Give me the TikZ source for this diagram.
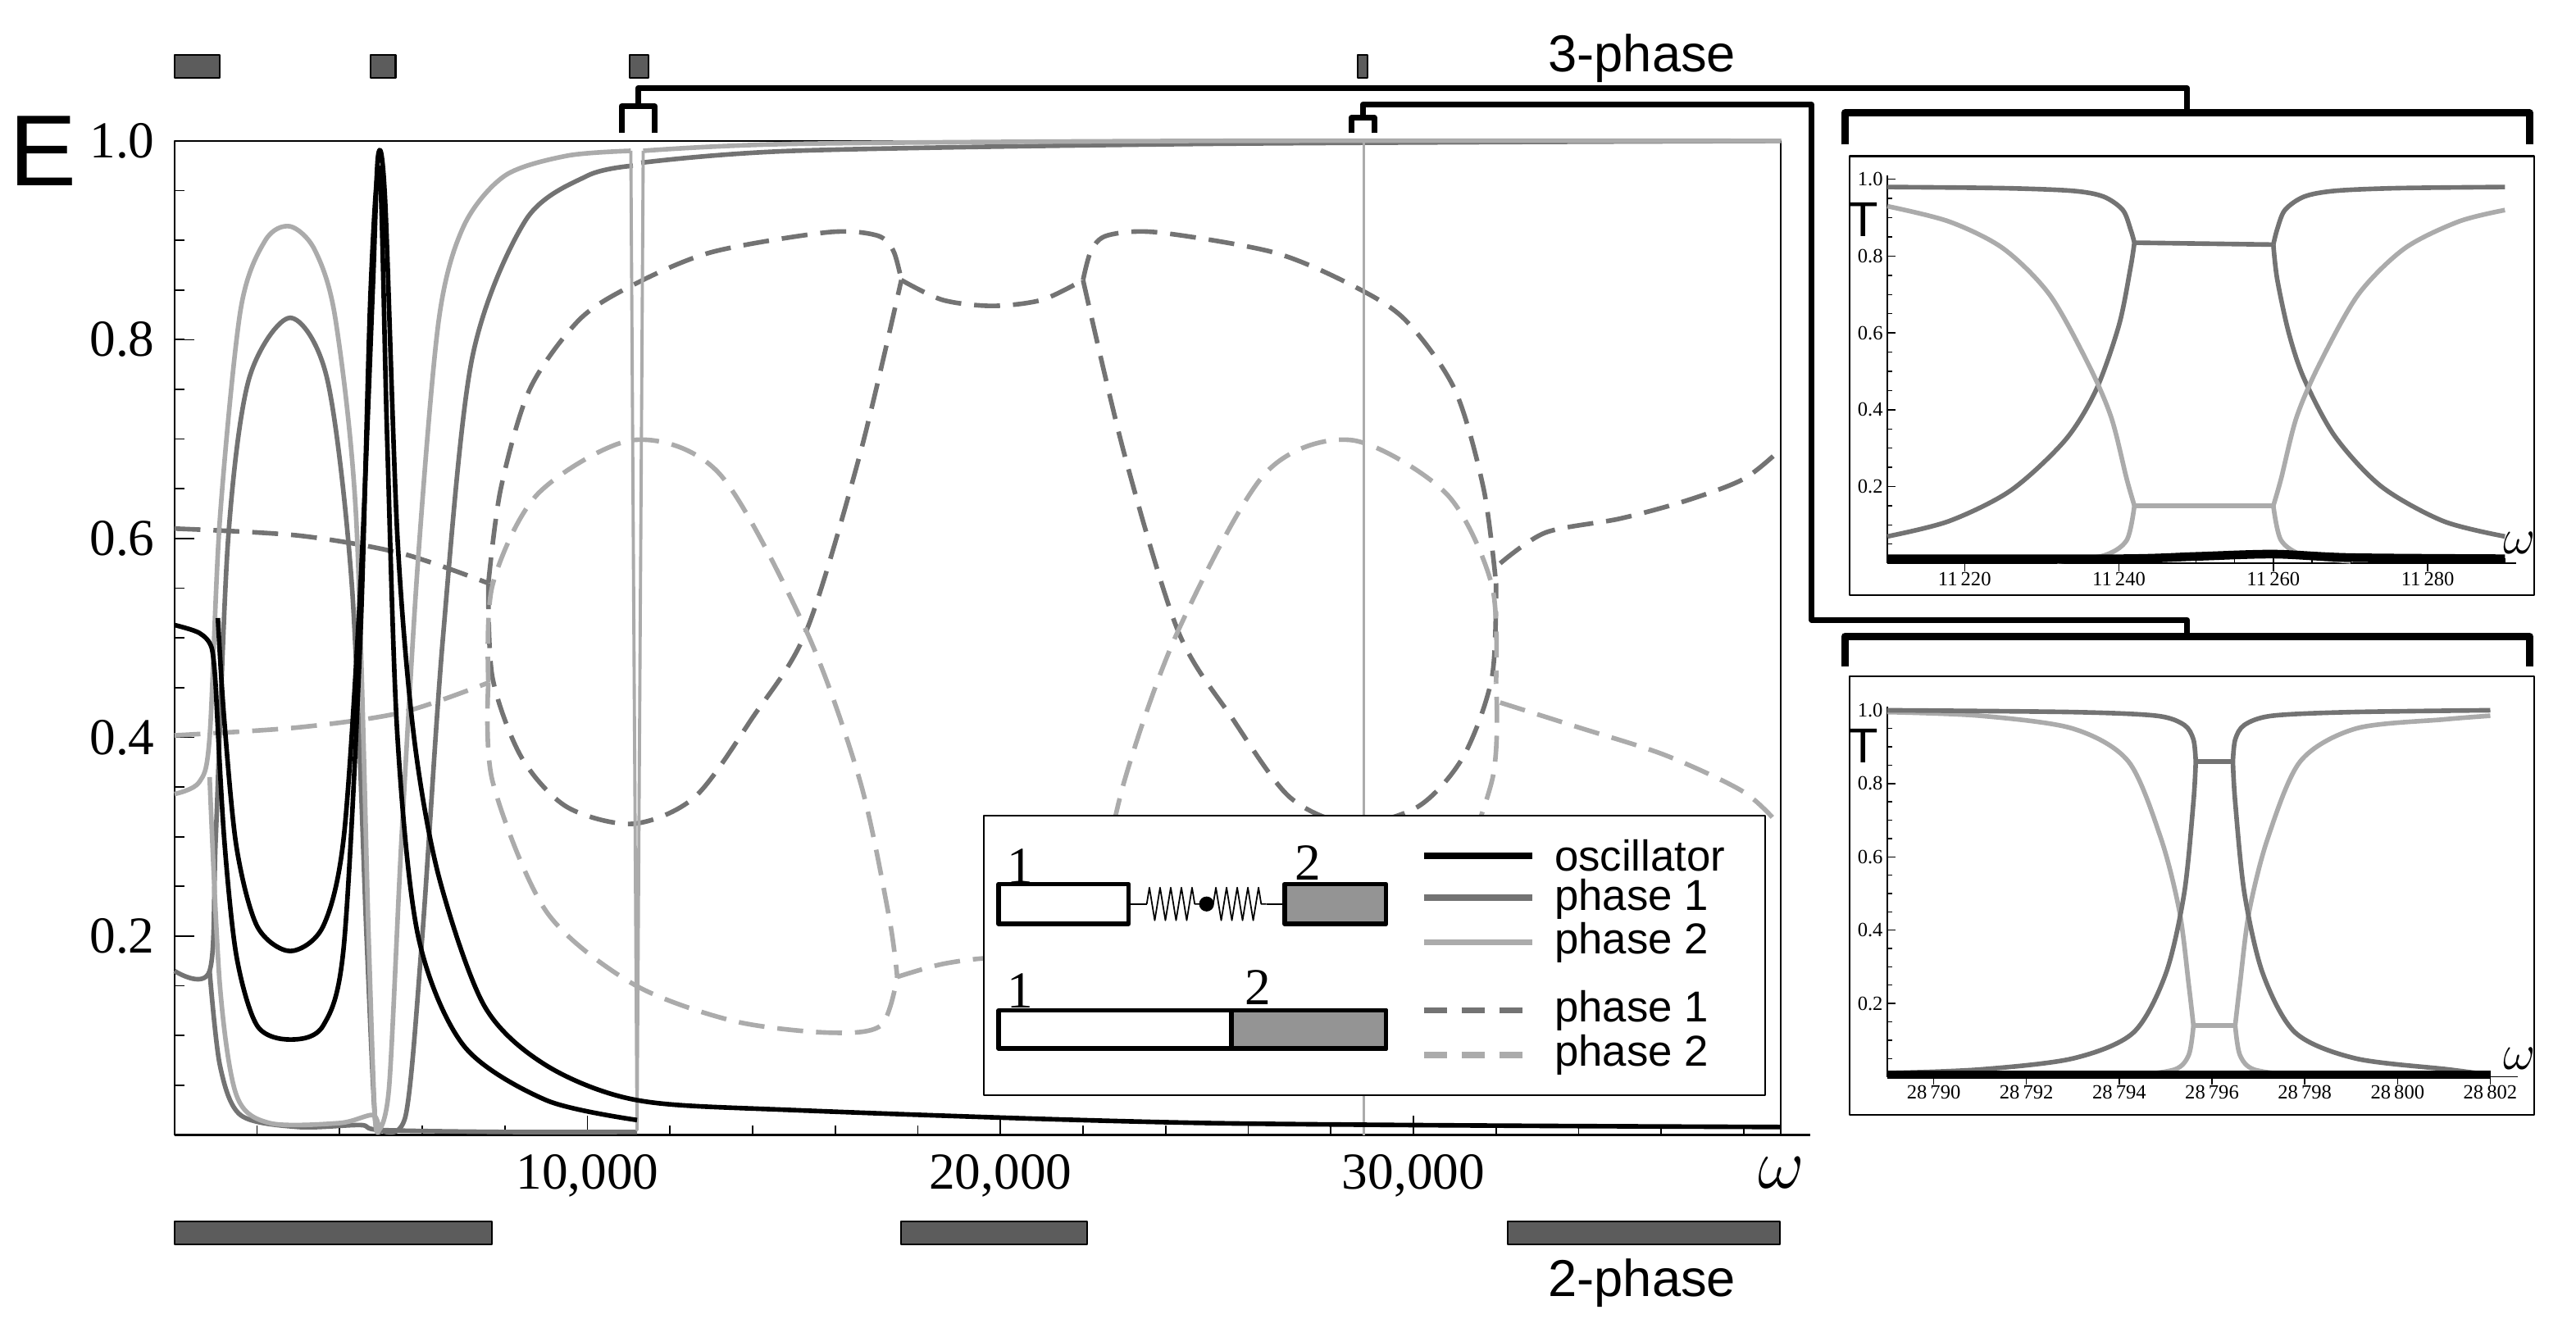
\documentclass[tikz,border=0pt]{standalone}
\usepackage{fontspec}
\setmainfont{Liberation Serif}
\newfontfamily\sansf{Liberation Sans}
\usetikzlibrary{decorations.pathmorphing}
\definecolor{phone}{gray}{0.45}
\definecolor{phtwo}{gray}{0.67}
\definecolor{regfill}{gray}{0.36}
\definecolor{boxfill}{gray}{0.58}
\tikzstyle{osc} = [line width=1.6pt, black]
\tikzstyle{phaseone} = [line width=1.6pt, phone]
\tikzstyle{phasetwo} = [line width=1.6pt, phtwo]
\tikzstyle{phaseonedash} = [phaseone, dash pattern=on 9pt off 4.5pt]
\tikzstyle{phasetwodash} = [phasetwo, dash pattern=on 9pt off 4.5pt]
\tikzstyle{region} = [draw=black, line width=0.6pt, fill=regfill]
\tikzstyle{bracket} = [line width=2pt, black]
\tikzstyle{ticklab} = [font=\fontsize{18}{18}\selectfont, inner sep=1pt]
\tikzstyle{insetlab} = [font=\fontsize{7}{7}\selectfont, inner sep=0.5pt]
\tikzstyle{legtext} = [font=\sansf\fontsize{15}{15}\selectfont, anchor=west, inner sep=0pt]
\tikzstyle{bigsans} = [font=\sansf\fontsize{18}{18}\selectfont, inner sep=0pt]
\begin{document}
\begin{tikzpicture}[x=0.020271cm, y=-0.020271cm, line join=round]
    \useasboundingbox (0,0) rectangle (1550,798.8);

    % region markers
    \draw[region] (105,33) rectangle (132,47);
    \draw[region] (223,33) rectangle (238,47);
    \draw[region] (379,33) rectangle (390,47);
    \draw[region] (817,33) rectangle (823,47);
    \draw[region] (105,735) rectangle (296,749);
    \draw[region] (542,735) rectangle (654,749);
    \draw[region] (907,735) rectangle (1071,749);
    \node (three) [bigsans] at (988,35) {3-phase};
    \node (two) [bigsans] at (988,772) {2-phase};

    % brackets
    \draw[bracket] (374,80) -- (374,64) -- (394,64) -- (394,80);
    \draw[bracket] (384,64) -- (384,53) -- (1316,53) -- (1316,68);
    \draw[bracket] (813,80) -- (813,71) -- (827,71) -- (827,80);
    \draw[bracket] (820,71) -- (820,63) -- (1090,63) -- (1090,373) -- (1316,373) -- (1316,383);
    \draw[bracket, line width=2.6pt] (1110,87) -- (1110,68) -- (1522,68) -- (1522,87);
    \draw[bracket, line width=2.6pt] (1110,401) -- (1110,383) -- (1522,383) -- (1522,401);

    % main plot
    \begin{scope}[shift={(105,683)}, x=0.50353cm, y=12.122cm]
        \draw[line width=0.6pt] (0,0) -- (39.6,0);
        \draw[line width=0.6pt] (0,0) -- (0,1) -- (38.9,1) -- (38.9,0);
        \foreach \t in {0.05,0.1,...,0.99} \draw[line width=0.5pt] (0,\t) -- ++(0.12cm,0);
        \foreach \t in {0.2,0.4,0.6,0.8} \draw[line width=0.5pt] (0,\t) -- ++(0.24cm,0);
        \foreach \w in {2,4,...,38} \draw[line width=0.5pt] (\w,0) -- ++(0,0.12cm);
        \foreach \w in {10,20,30} \draw[line width=0.5pt] (\w,0) -- ++(0,0.24cm);
        \foreach \t/\l in {0.2/0.2,0.4/0.4,0.6/0.6,0.8/0.8,1/1.0}
            \node (ylab\l) [ticklab, anchor=east] at ([xshift=-0.2cm]0,\t) {\l};
        \foreach \w/\l in {10/{10,000},20/{20,000},30/{30,000}}
            \node (xlab\w) [ticklab, anchor=north] at ([yshift=-0.2cm]\w,0) {\l};

        % dashed: two-phase bar
        \draw[phaseonedash] plot[smooth] coordinates {(0,0.61) (3,0.603) (5.5,0.585) (7.6,0.555)};
        \draw[phaseonedash] plot[smooth] coordinates {(7.6,0.555) (7.9,0.65) (8.6,0.75) (9.8,0.82) (11.1,0.855) (13,0.888) (15.8,0.908) (17,0.905) (17.4,0.89) (17.6,0.86)};
        \draw[phaseonedash] plot[smooth] coordinates {(17.6,0.86) (18.6,0.84) (19.8,0.834) (21,0.84) (22,0.86)};
        \draw[phaseonedash] plot[smooth] coordinates {(22,0.86) (22.2,0.89) (22.6,0.905) (23.8,0.908) (26.6,0.888) (28.5,0.855) (29.8,0.82) (31,0.75) (31.7,0.65) (32,0.555)};
        \draw[phaseonedash] plot[smooth] coordinates {(7.6,0.555) (7.7,0.46) (8.4,0.38) (9.5,0.33) (11.1,0.313) (12.6,0.34) (14,0.42) (15.3,0.507) (16.6,0.685) (17.6,0.86)};
        \draw[phaseonedash] plot[smooth] coordinates {(22,0.86) (23,0.685) (24.3,0.507) (25.6,0.42) (27,0.34) (28.5,0.313) (30.1,0.33) (31.2,0.38) (31.9,0.46) (32,0.555)};
        \draw[phaseonedash] plot[smooth] coordinates {(32.1,0.575) (33.2,0.606) (35,0.62) (36.6,0.638) (38,0.66) (38.9,0.69)};
        \draw[phasetwodash] plot[smooth] coordinates {(0,0.402) (3,0.41) (5.5,0.425) (7.6,0.455)};
        \draw[phasetwodash] plot[smooth] coordinates {(7.6,0.455) (7.7,0.553) (8.8,0.645) (11.1,0.699) (13.2,0.665) (15.3,0.507) (16.6,0.356) (17.3,0.22) (17.5,0.159)};
        \draw[phasetwodash] plot[smooth] coordinates {(7.6,0.455) (7.7,0.356) (9,0.225) (11.1,0.152) (13.5,0.115) (15.8,0.103) (17.1,0.11) (17.5,0.159)};
        \draw[phasetwodash] plot[smooth] coordinates {(17.5,0.159) (18.6,0.172) (19.8,0.178) (21,0.172) (22.1,0.159)};
        \draw[phasetwodash] plot[smooth] coordinates {(22.1,0.159) (22.5,0.11) (23.8,0.103) (26.1,0.115) (28.5,0.152) (30.6,0.225) (31.9,0.356) (32,0.455)};
        \draw[phasetwodash] plot[smooth] coordinates {(22.1,0.159) (22.3,0.22) (23,0.356) (24.3,0.507) (26.4,0.665) (28.5,0.699) (30.8,0.645) (31.9,0.553) (32,0.455)};
        \draw[phasetwodash] plot[smooth] coordinates {(32.1,0.435) (34,0.41) (36.1,0.382) (38,0.345) (38.9,0.31)};

        % solid: three-phase bar
        \draw[phaseone] plot[smooth] coordinates {(0,0.165) (0.85,0.165) (1.0,0.3) (1.3,0.6) (1.8,0.76) (2.8,0.822) (3.7,0.76) (4.3,0.55) (4.65,0.2) (4.85,0.02) (5.0,0.005)};
        \draw[phaseone] plot[smooth] coordinates {(0.85,0.165) (1.1,0.07) (1.6,0.02) (3,0.008) (4.5,0.01) (5,0.005) (8,0.003) (11.2,0.003)};
        \draw[phaseone] plot[smooth] coordinates {(5.0,0.005) (5.6,0.02) (6.0,0.2) (6.5,0.5) (7.2,0.78) (8.5,0.92) (10,0.965) (11.1,0.975)};
        \draw[phaseone] plot[smooth] coordinates {(11.3,0.978) (15,0.99) (25,0.997) (38.9,1.0)};
        \draw[phasetwo] plot[smooth] coordinates {(0,0.343) (0.6,0.355) (0.85,0.40) (1.1,0.62) (1.6,0.83) (2.2,0.9) (2.8,0.914) (3.4,0.89) (3.9,0.82) (4.4,0.62) (4.7,0.2) (4.85,0.02) (4.95,0.005)};
        \draw[phasetwo] plot[smooth] coordinates {(0.85,0.36) (1.1,0.15) (1.5,0.04) (2.3,0.012) (4,0.012) (4.8,0.02) (4.95,0.005)};
        \draw[phasetwo] plot[smooth] coordinates {(4.95,0.005) (5.2,0.05) (5.5,0.3) (5.9,0.58) (6.4,0.82) (7,0.914) (8,0.965) (9.5,0.985) (11.05,0.99)};
        \draw[phasetwo] plot[smooth] coordinates {(11.35,0.99) (15,0.997) (25,1.0) (38.9,1.0)};
        \draw[phasetwo, line width=1.1pt] (11.05,0.99) -- (11.2,0.005) -- (11.35,0.99);
        \draw[phasetwo, line width=1.1pt] (28.8,1) -- (28.8,0);

        % oscillator
        \draw[osc] plot[smooth] coordinates {(0,0.513) (0.6,0.505) (0.9,0.49) (1.0,0.45)};
        \draw[osc] plot[smooth] coordinates {(1.05,0.52) (1.2,0.42) (1.5,0.29) (2.0,0.21) (2.8,0.185) (3.6,0.21) (4.1,0.3) (4.5,0.55) (4.8,0.85) (4.93,0.985) (5.1,0.94) (5.4,0.6) (5.8,0.4) (6.4,0.26) (7.5,0.13) (9,0.07) (11.2,0.035) (15,0.025) (25,0.012) (38.9,0.008)};
        \draw[osc] plot[smooth] coordinates {(1.0,0.45) (1.2,0.3) (1.5,0.18) (2.0,0.11) (2.8,0.096) (3.6,0.11) (4.1,0.19) (4.5,0.5) (4.75,0.85) (4.97,0.97) (5.15,0.7) (5.4,0.4) (5.9,0.2) (7,0.09) (9,0.035) (11.2,0.015)};
    \end{scope}
    \node (E) [font=\sansf\fontsize{35}{35}\selectfont, inner sep=0pt] at (26,91) {E};
    \node (omega) [font=\fontsize{46}{46}\selectfont, inner sep=0pt] at (1072,706) {$\omega$};

    % legend
    \draw[line width=0.6pt, fill=white] (592,491) rectangle (1062,659);
    \draw[line width=1.6pt] (601,532) rectangle (679,556);
    \draw[line width=1.6pt, fill=boxfill] (773,532) rectangle (834,556);
    \draw[line width=0.6pt] (679,544) -- (690,544);
    \draw[line width=0.5pt, decorate, decoration={zigzag, amplitude=0.2cm, segment length=0.13cm}] (690,544) -- (722,544);
    \draw[line width=0.5pt, decorate, decoration={zigzag, amplitude=0.2cm, segment length=0.13cm}] (730,544) -- (762,544);
    \draw[line width=0.6pt] (762,544) -- (773,544);
    \fill (726,544) circle (4.5);
    \draw[line width=1.6pt] (601,608) rectangle (834,631);
    \draw[line width=1.6pt, fill=boxfill] (741,608) rectangle (834,631);
    \node (bone) [ticklab] at (614,521) {1};
    \node (btwo) [ticklab] at (787,519) {2};
    \node (cone) [ticklab] at (614,596) {1};
    \node (ctwo) [ticklab] at (757,594) {2};
    \draw[osc, line width=2.2pt] (857,515) -- (922,515);
    \draw[phaseone, line width=2.2pt] (857,540) -- (922,540);
    \draw[phasetwo, line width=2.2pt] (857,567) -- (922,567);
    \draw[phaseonedash, line width=2.2pt, dash pattern=on 8pt off 5pt] (857,608) -- (922,608);
    \draw[phasetwodash, line width=2.2pt, dash pattern=on 8pt off 5pt] (857,635) -- (922,635);
    \node (losc) [legtext] at (935,515) {oscillator};
    \node (lone) [legtext] at (935,541) {phase 1};
    \node (ltwo) [legtext] at (935,567) {phase 2};
    \node (ldone) [legtext] at (935,608) {phase 1};
    \node (ldtwo) [legtext] at (935,635) {phase 2};

    % inset near 11 250
    \draw[line width=0.6pt] (1113,94) rectangle (1525,358);
    \begin{scope}[shift={(1089.2,339)}, x=0.09412cm, y=4.6826cm]
        \draw[line width=0.5pt] (10,0) -- (91.5,0);
        \draw[line width=0.5pt] (10,0) -- (10,1.01);
        \foreach \t in {0.05,0.1,...,0.99} \draw[line width=0.4pt] (10,\t) -- ++(0.06cm,0);
        \foreach \t in {0.2,0.4,0.6,0.8,1} \draw[line width=0.4pt] (10,\t) -- ++(0.1cm,0);
        \foreach \w in {10,15,...,90} \draw[line width=0.4pt] (\w,0) -- ++(0,0.06cm);
        \foreach \w in {20,40,60,80} \draw[line width=0.4pt] (\w,-0.02) -- ++(0,0.12cm);
        \foreach \t/\l in {0.2/0.2,0.4/0.4,0.6/0.6,0.8/0.8,1/1.0}
            \node (ialab\l) [insetlab, anchor=east] at ([xshift=-0.03cm]10,\t) {\l};
        \foreach \w/\l in {20/11\,220,40/11\,240,60/11\,260,80/11\,280}
            \node (iaxlab\w) [insetlab, anchor=north] at ([yshift=-0.08cm]\w,0) {\l};
        \draw[phaseone] plot[smooth] coordinates {(10,0.98) (25,0.977) (34,0.97) (38,0.955) (40.5,0.92) (41.5,0.87) (42,0.835)};
        \draw[phaseone] (42,0.835) -- (60,0.83);
        \draw[phaseone] plot[smooth] coordinates {(60,0.83) (60.5,0.87) (61.5,0.92) (64,0.955) (68,0.97) (76,0.977) (90,0.98)};
        \draw[phaseone] plot[smooth] coordinates {(10,0.07) (18,0.11) (26,0.19) (33,0.32) (37,0.45) (40,0.62) (41.5,0.77) (42,0.835)};
        \draw[phaseone] plot[smooth] coordinates {(60,0.83) (60.5,0.74) (62,0.6) (64,0.48) (68,0.33) (74,0.2) (82,0.11) (90,0.07)};
        \draw[phasetwo] plot[smooth] coordinates {(10,0.93) (18,0.89) (25,0.82) (31,0.7) (36,0.52) (39,0.38) (41,0.22) (42,0.15)};
        \draw[phasetwo] (42,0.15) -- (60,0.15);
        \draw[phasetwo] plot[smooth] coordinates {(60,0.15) (61,0.22) (63,0.38) (66,0.52) (71,0.7) (77,0.82) (84,0.89) (90,0.92)};
        \draw[phasetwo] plot[smooth] coordinates {(32,0.005) (38,0.02) (41,0.06) (42,0.15)};
        \draw[phasetwo] plot[smooth] coordinates {(60,0.15) (61,0.06) (64,0.02) (70,0.005)};
        \draw[osc, line width=3pt] plot[smooth] coordinates {(10,0.012) (40,0.012) (50,0.018) (60,0.024) (70,0.015) (90,0.012)};
    \end{scope}
    \node (Tone) [font=\sansf\fontsize{17}{17}\selectfont, inner sep=0pt] at (1121,132) {T};
    \node (wone) [font=\fontsize{18}{18}\selectfont, inner sep=0pt] at (1516,327) {$\omega$};

    % inset near 28 796
    \draw[line width=0.6pt] (1113,407) rectangle (1525,671);
    \begin{scope}[shift={(884.4,648)}, x=0.56556cm, y=4.4698cm]
        \draw[line width=0.5pt] (9,0) -- (22.6,0);
        \draw[line width=0.5pt] (9,0) -- (9,1.01);
        \foreach \t in {0.05,0.1,...,0.99} \draw[line width=0.4pt] (9,\t) -- ++(0.06cm,0);
        \foreach \t in {0.2,0.4,0.6,0.8,1} \draw[line width=0.4pt] (9,\t) -- ++(0.1cm,0);
        \foreach \w in {9,9.5,...,22} \draw[line width=0.4pt] (\w,0) -- ++(0,0.06cm);
        \foreach \w in {10,12,...,22} \draw[line width=0.4pt] (\w,-0.02) -- ++(0,0.12cm);
        \foreach \t/\l in {0.2/0.2,0.4/0.4,0.6/0.6,0.8/0.8,1/1.0}
            \node (iblab\l) [insetlab, anchor=east] at ([xshift=-0.03cm]9,\t) {\l};
        \foreach \w/\l in {10/28\,790,12/28\,792,14/28\,794,16/28\,796,18/28\,798,20/28\,800,22/28\,802}
            \node (ibxlab\w) [insetlab, anchor=north] at ([yshift=-0.08cm]\w,0) {\l};
        \draw[phasetwo] plot[smooth] coordinates {(9,0.995) (11,0.985) (13,0.95) (14.2,0.86) (14.9,0.65) (15.3,0.45) (15.5,0.25) (15.6,0.14)};
        \draw[phasetwo] (15.6,0.14) -- (16.5,0.14);
        \draw[phasetwo] plot[smooth] coordinates {(16.5,0.14) (16.6,0.25) (16.8,0.45) (17.2,0.65) (17.9,0.86) (19.1,0.95) (21,0.975) (22,0.985)};
        \draw[phasetwo] plot[smooth] coordinates {(14.3,0.003) (15.2,0.02) (15.5,0.06) (15.6,0.14)};
        \draw[phasetwo] plot[smooth] coordinates {(16.5,0.14) (16.6,0.06) (16.9,0.02) (17.8,0.003)};
        \draw[phaseone] plot[smooth] coordinates {(9,1.0) (13,0.995) (14.8,0.985) (15.4,0.96) (15.6,0.92) (15.65,0.86)};
        \draw[phaseone] (15.65,0.86) -- (16.45,0.86);
        \draw[phaseone] plot[smooth] coordinates {(16.45,0.86) (16.5,0.92) (16.7,0.96) (17.3,0.985) (19,0.995) (22,1.0)};
        \draw[phaseone] plot[smooth] coordinates {(9,0.01) (11,0.02) (13,0.05) (14.3,0.12) (15,0.28) (15.4,0.5) (15.6,0.75) (15.65,0.86)};
        \draw[phaseone] plot[smooth] coordinates {(16.45,0.86) (16.5,0.75) (16.7,0.5) (17.1,0.28) (17.8,0.12) (19.1,0.05) (21.1,0.02) (22,0.005)};
        \draw[osc, line width=3pt] (9,0.006) -- (22,0.006);
    \end{scope}
    \node (Ttwo) [font=\sansf\fontsize{17}{17}\selectfont, inner sep=0pt] at (1121,449) {T};
    \node (wtwo) [font=\fontsize{18}{18}\selectfont, inner sep=0pt] at (1516,637) {$\omega$};
\end{tikzpicture}
\end{document}
